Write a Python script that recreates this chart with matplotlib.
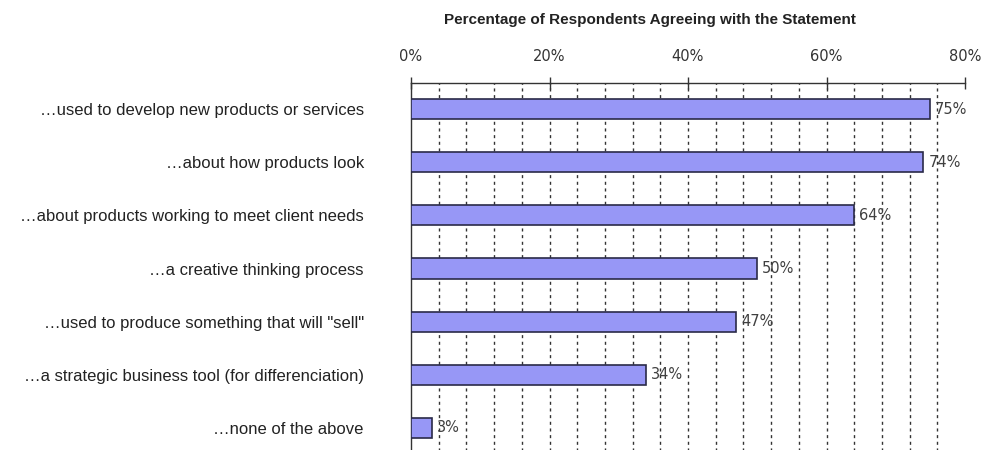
import matplotlib
matplotlib.use('Agg')
import matplotlib.pyplot as plt
import numpy as np

categories = ['\u2026used to develop new products or services',
              '\u2026about how products look',
              '\u2026about products working to meet client needs',
              '\u2026a creative thinking process',
              '\u2026used to produce something that will "sell"',
              '\u2026a strategic business tool (for differenciation)',
              '\u2026none of the above']
values = [75, 74, 64, 50, 47, 34, 3]
x_ticks = [0, 20, 40, 60, 80]
title = 'Percentage of Respondents Agreeing with the Statement'

fig = plt.figure(figsize=(9.81, 4.5), dpi=100)
ax = fig.add_axes([411/981, -0.01, (965-411)/981, 1 - 82.5/450 + 0.01])

y = np.arange(len(categories))
ax.barh(y, values, height=0.38, color='#9797f6', edgecolor='#2a2a48',
        linewidth=1.2, zorder=3)

for yi, v in zip(y, values):
    ax.text(v + 0.7, yi, '%d%%' % v, va='center', ha='left',
            fontsize=10.5, color='#404040', family='DejaVu Sans', zorder=4)

ax.set_xlim(0, 80)
ax.set_ylim(6.5, -0.5)

ax.xaxis.tick_top()
ax.xaxis.remove_overlapping_locs = False
ax.set_xticks(x_ticks)
ax.set_xticklabels(['%d%%' % t for t in x_ticks], fontsize=10.5,
                   color='#333333', family='DejaVu Sans')
ax.set_xticks(np.arange(4, 80, 4), minor=True)
ax.tick_params(axis='x', which='major', direction='inout', length=8,
               width=1, pad=9, color='#333333')
ax.tick_params(axis='x', which='minor', length=0)
ax.grid(which='minor', axis='x', color='#333333', linewidth=1.0,
        linestyle=(0, (2.2, 2.6)), zorder=0)

ax.set_yticks(y)
ax.set_yticklabels(categories, fontsize=12, family='Liberation Sans',
                   color='#222222')
ax.tick_params(axis='y', length=0, pad=34)

for side in ['right', 'bottom']:
    ax.spines[side].set_visible(False)
for side in ['top', 'left']:
    ax.spines[side].set_color('#333333')
    ax.spines[side].set_linewidth(1)

fig.text(650/981, 1 - 20/450, title, ha='center', va='center',
         fontsize=11, fontweight='bold', family='Liberation Sans',
         color='#222222')

fig.savefig('out.png', dpi=100)
